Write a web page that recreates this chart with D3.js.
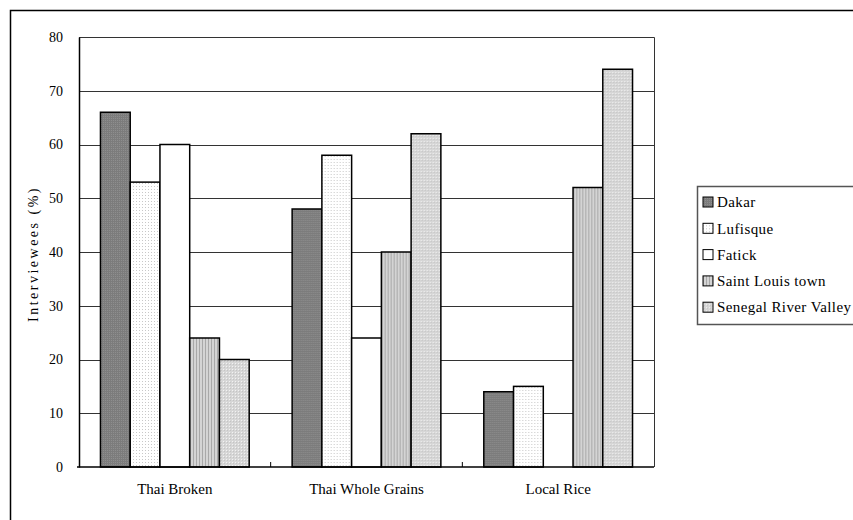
<!DOCTYPE html>
<html>
<head>
<meta charset="utf-8">
<script src="https://cdn.jsdelivr.net/npm/d3@7"></script>
<style>
html,body{margin:0;padding:0;background:#fff;}
svg{display:block;}
text{font-family:"Liberation Serif","Times New Roman",serif;fill:#000;}
</style>
</head>
<body>
<svg id="chart" width="853" height="520"></svg>
<script>
const categories = ["Thai Broken", "Thai Whole Grains", "Local Rice"];
const seriesNames = ["Dakar", "Lufisque", "Fatick", "Saint Louis town", "Senegal River Valley"];
const dakar = [66, 48, 14];
const lufisque = [53, 58, 15];
const fatick = [60, 24, 0];
const saintLouis = [24, 40, 52];
const senegalRiver = [20, 62, 74];
const yTicks = [0, 10, 20, 30, 40, 50, 60, 70, 80];

const seriesValues = [dakar, lufisque, fatick, saintLouis, senegalRiver];
const patternIds = ["pDakar", "pLuf", "pFat", "pSL", "pSRV"];
const serif = "'Liberation Serif', 'Times New Roman', serif";

const svg = d3.select("#chart");
const defs = svg.append("defs");

// patterns
let p = defs.append("pattern").attr("id", "pDakar").attr("patternUnits", "userSpaceOnUse").attr("width", 2).attr("height", 2);
p.append("rect").attr("width", 2).attr("height", 2).attr("fill", "#7c7c7c");
p.append("rect").attr("width", 1).attr("height", 1).attr("fill", "#8e8e8e");

p = defs.append("pattern").attr("id", "pLuf").attr("patternUnits", "userSpaceOnUse").attr("width", 3).attr("height", 3);
p.append("rect").attr("width", 3).attr("height", 3).attr("fill", "#ffffff");
p.append("rect").attr("width", 1).attr("height", 1).attr("fill", "#c8c8c8");

p = defs.append("pattern").attr("id", "pFat").attr("patternUnits", "userSpaceOnUse").attr("width", 2).attr("height", 2);
p.append("rect").attr("width", 2).attr("height", 2).attr("fill", "#ffffff");

p = defs.append("pattern").attr("id", "pSL").attr("patternUnits", "userSpaceOnUse").attr("width", 3).attr("height", 3);
p.append("rect").attr("width", 3).attr("height", 3).attr("fill", "#d4d4d4");
p.append("rect").attr("width", 1).attr("height", 3).attr("fill", "#a8a8a8");

p = defs.append("pattern").attr("id", "pSRV").attr("patternUnits", "userSpaceOnUse").attr("width", 3).attr("height", 3);
p.append("rect").attr("width", 3).attr("height", 3).attr("fill", "#d6d6d6");
p.append("rect").attr("width", 1).attr("height", 1).attr("fill", "#f2f2f2");
p.append("rect").attr("x", 1).attr("y", 1).attr("width", 1).attr("height", 1).attr("fill", "#c4c4c4");

// outer frame
svg.append("rect").attr("x", 10.5).attr("y", 10.5).attr("width", 860).attr("height", 530)
  .attr("fill", "none").attr("stroke", "#000").attr("stroke-width", 1.5);

const pLeft = 79, pRight = 654, pTop = 37, pBottom = 467;

const x0 = d3.scaleBand().domain(categories).range([pLeft, pRight]).padding(0);
const gap = x0.bandwidth() * 0.112;
const x1 = d3.scaleBand().domain(seriesNames).range([gap, x0.bandwidth() - gap]).padding(0);
const y = d3.scaleLinear().domain([0, 80]).range([pBottom, pTop]);

// gridlines
svg.append("g").selectAll("line").data(yTicks.filter(d => d > 0 && d < 80)).join("line")
  .attr("x1", pLeft).attr("x2", pRight)
  .attr("y1", d => Math.round(y(d)) + 0.5).attr("y2", d => Math.round(y(d)) + 0.5)
  .attr("stroke", "#333").attr("stroke-width", 1);

// plot frame (top and right)
svg.append("path")
  .attr("d", `M${pLeft},${pTop + 0.5}H${pRight + 0.5}V${pBottom}`)
  .attr("fill", "none").attr("stroke", "#333").attr("stroke-width", 1);

// bars
const groups = svg.append("g").selectAll("g").data(categories).join("g")
  .attr("transform", d => `translate(${x0(d)},0)`);
groups.selectAll("rect")
  .data((c, ci) => seriesNames.map((s, si) => ({ s, si, v: seriesValues[si][ci] })).filter(d => d.v > 0))
  .join("rect")
  .attr("x", d => x1(d.s))
  .attr("width", x1.bandwidth())
  .attr("y", d => y(d.v))
  .attr("height", d => y(0) - y(d.v))
  .attr("fill", d => `url(#${patternIds[d.si]})`)
  .attr("stroke", "#000").attr("stroke-width", 1.5);

// y axis
const yAxis = d3.axisLeft(y).tickValues(yTicks).tickSize(0).tickPadding(16);
const gy = svg.append("g").attr("transform", `translate(${pLeft},0)`).call(yAxis);
gy.select(".domain").attr("stroke", "#000").attr("stroke-width", 1.5);
gy.selectAll("text").style("font-family", serif).style("font-size", "14px");

// x axis
const xAxis = d3.axisBottom(x0).tickSize(0).tickPadding(16);
const gx = svg.append("g").attr("transform", `translate(0,${pBottom})`).call(xAxis);
gx.select(".domain").attr("stroke", "#000").attr("stroke-width", 1.5).attr("d", `M${pLeft - 2},0H${pRight}`);
gx.selectAll("text").style("font-family", serif).style("font-size", "15px");
// category boundary ticks
svg.append("g").selectAll("line").data(categories.slice(1)).join("line")
  .attr("x1", d => x0(d)).attr("x2", d => x0(d))
  .attr("y1", pBottom).attr("y2", pBottom - 5)
  .attr("stroke", "#000").attr("stroke-width", 1);

// y title
svg.append("text")
  .attr("transform", `translate(38,${(pTop + pBottom) / 2 + 2}) rotate(-90)`)
  .attr("text-anchor", "middle")
  .style("font-family", serif)
  .style("font-size", "14px")
  .style("letter-spacing", "2.5px")
  .text("Interviewees (%)");

// legend
const lg = svg.append("g");
lg.append("rect").attr("x", 697.5).attr("y", 186.5).attr("width", 200).attr("height", 138)
  .attr("fill", "#fff").attr("stroke", "#555").attr("stroke-width", 1.5);
const items = lg.selectAll("g.item").data(seriesNames).join("g").attr("class", "item")
  .attr("transform", (d, i) => `translate(703,${202 + i * 26.3})`);
items.append("rect").attr("x", 0).attr("y", -5).attr("width", 10).attr("height", 10)
  .attr("fill", (d, i) => `url(#${patternIds[i]})`).attr("stroke", "#000").attr("stroke-width", 1);
items.append("text").attr("x", 14).attr("y", 0).attr("dy", "0.35em")
  .style("font-family", serif)
  .style("letter-spacing", "0.4px")
  .style("font-size", "15px").text(d => d);
</script>
</body>
</html>
